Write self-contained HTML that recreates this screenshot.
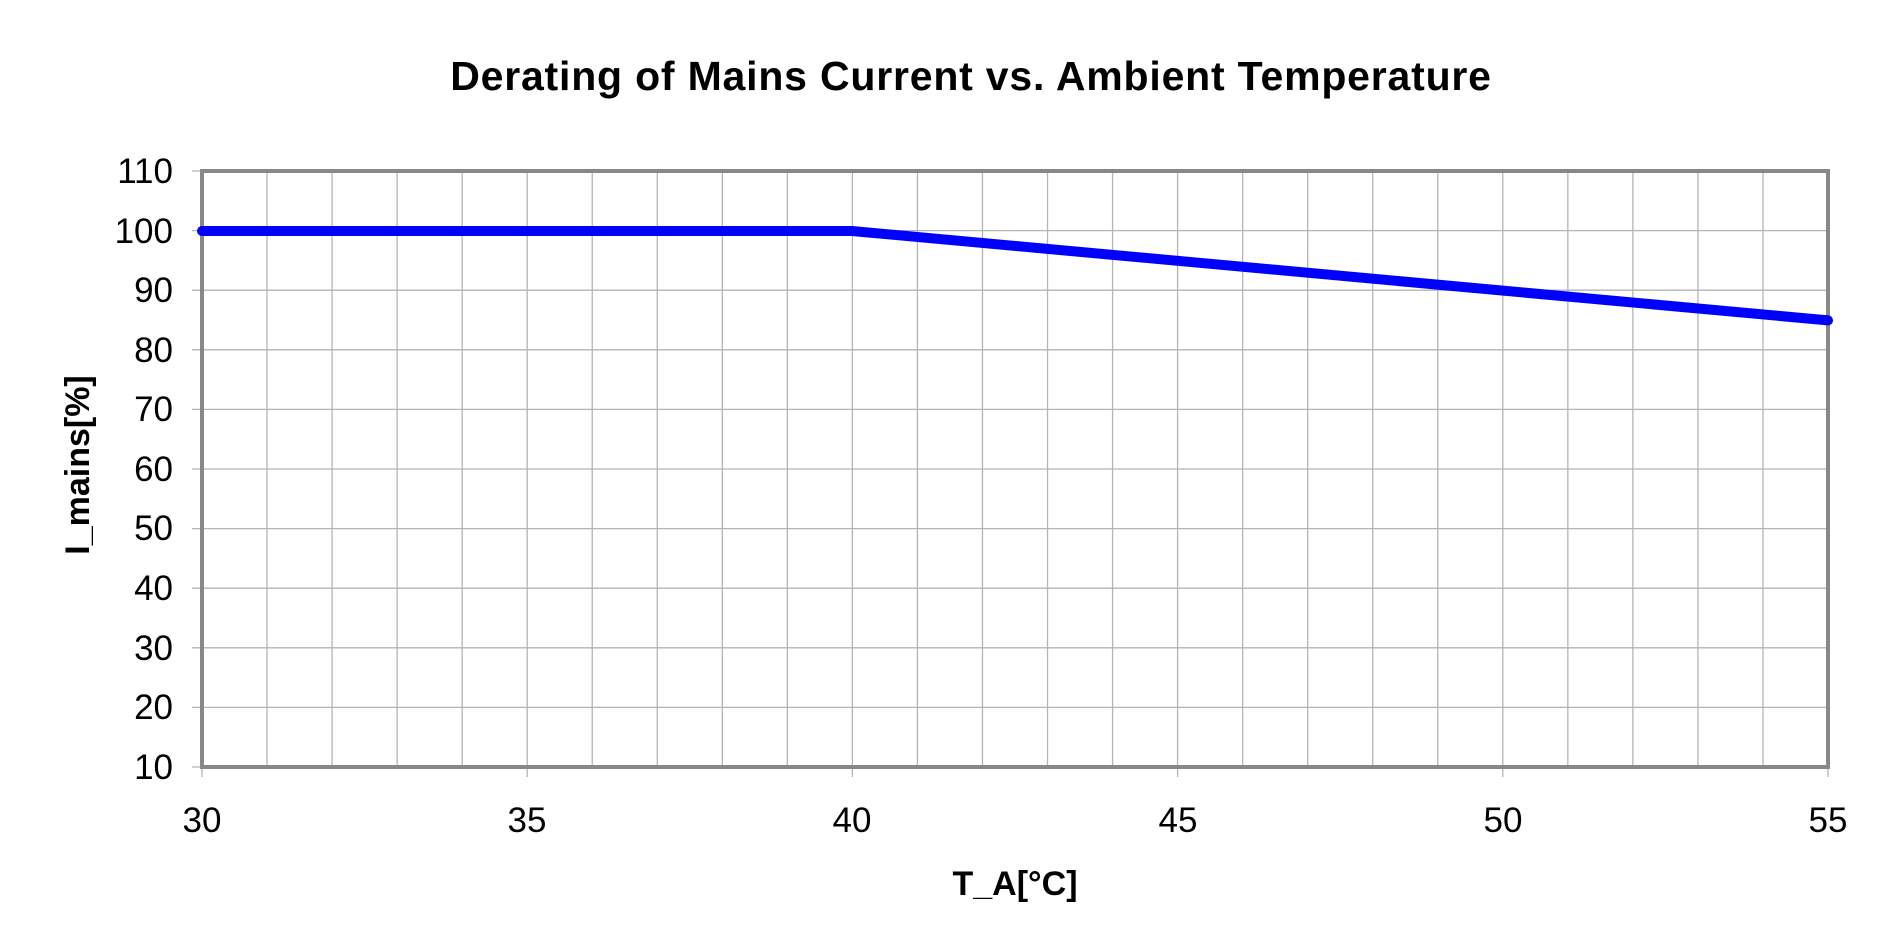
<!DOCTYPE html>
<html><head><style>html,body{margin:0;padding:0;background:#fff}</style></head><body>
<svg width="1878" height="942" viewBox="0 0 1878 942" xmlns="http://www.w3.org/2000/svg" font-family="Liberation Sans, Arial, sans-serif">
<rect width="1878" height="942" fill="#fff"/>
<text x="971" y="90" font-size="41" font-weight="bold" text-anchor="middle" letter-spacing="0.8">Derating of Mains Current vs. Ambient Temperature</text>
<path stroke="#b4b4b4" stroke-width="1.3" fill="none" d="
M267.04 171V767M332.08 171V767M397.12 171V767M462.16 171V767M527.2 171V767M592.24 171V767M657.28 171V767M722.32 171V767M787.36 171V767M852.4 171V767M917.44 171V767M982.48 171V767M1047.52 171V767M1112.56 171V767M1177.6 171V767M1242.64 171V767M1307.68 171V767M1372.72 171V767M1437.76 171V767M1502.8 171V767M1567.84 171V767M1632.88 171V767M1697.92 171V767M1762.96 171V767
M192 171H1828M192 230.6H1828M192 290.2H1828M192 349.8H1828M192 409.4H1828M192 469H1828M192 528.6H1828M192 588.2H1828M192 647.8H1828M192 707.4H1828M192 767H202
M202 767V777M527.2 767V777M852.4 767V777M1177.6 767V777M1502.8 767V777M1828 767V777"/>
<rect x="202" y="171" width="1626" height="596" fill="none" stroke="#888" stroke-width="4"/>
<polyline points="202,231 852,231 1828,320.4" fill="none" stroke="#0000ff" stroke-width="10" stroke-linecap="round" stroke-linejoin="round"/>
<g font-size="35" text-anchor="end">
<text x="173" y="183">110</text><text x="173" y="243">100</text><text x="173" y="302">90</text>
<text x="173" y="362">80</text><text x="173" y="421">70</text><text x="173" y="481">60</text>
<text x="173" y="540">50</text><text x="173" y="600">40</text><text x="173" y="660">30</text>
<text x="173" y="719">20</text><text x="173" y="779">10</text>
</g>
<g font-size="35" text-anchor="middle">
<text x="202" y="832">30</text><text x="527" y="832">35</text><text x="852" y="832">40</text>
<text x="1178" y="832">45</text><text x="1503" y="832">50</text><text x="1828" y="832">55</text>
</g>
<text x="1015" y="895" font-size="34" font-weight="bold" text-anchor="middle">T_A[°C]</text>
<text transform="translate(89,465) rotate(-90)" font-size="34" font-weight="bold" text-anchor="middle">I_mains[%]</text>
</svg>
</body></html>
